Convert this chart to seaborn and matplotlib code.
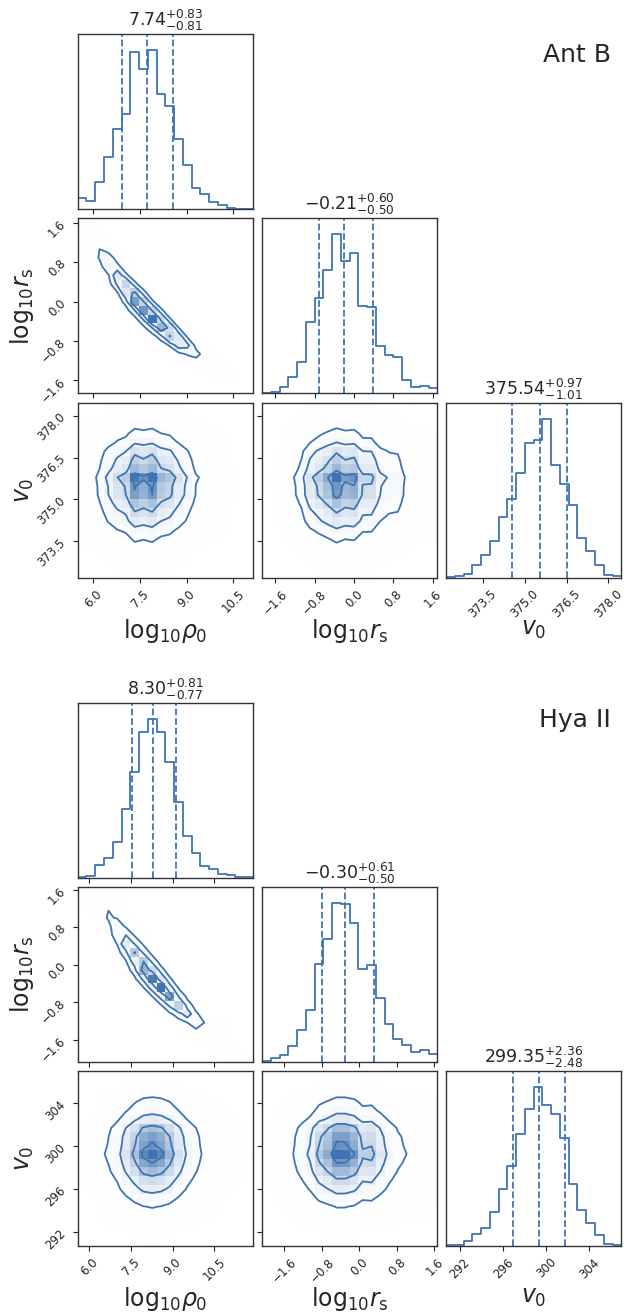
import numpy as np
import pandas as pd
import matplotlib
matplotlib.use("Agg")
import matplotlib.pyplot as plt
import seaborn as sns
from matplotlib.colors import LinearSegmentedColormap
from matplotlib.ticker import FixedLocator, FixedFormatter, NullLocator

# ----------------------------------------------------------------- data
galaxy_names = ["Ant B", "Hya II"]
param_labels = [r"$\mathrm{log}_{10}\rho_0$", r"$\mathrm{log}_{10}r_{\rm s}$", r"$v_0$"]

# Ant B : histogram ranges and 20-bin counts
antb_rho0_range = (5.50, 11.13)
antb_rs_range = (-1.87, 1.69)
antb_v0_range = (372.18, 378.46)
antb_rho0_counts = [33, 23, 80, 157, 240, 286, 471, 421, 478, 346,
                    308, 211, 131, 63, 45, 21, 13, 3, 1, 1]
antb_rs_counts = [2, 5, 18, 48, 94, 213, 285, 368, 475, 395,
                  419, 261, 258, 142, 114, 108, 41, 20, 22, 16]
antb_v0_counts = [4, 7, 13, 40, 68, 110, 184, 237, 316, 404,
                  414, 477, 339, 281, 220, 121, 80, 40, 10, 6]
antb_median = [7.74, -0.21, 375.54]
antb_err_plus = [0.83, 0.60, 0.97]
antb_err_minus = [0.81, 0.50, 1.01]

# Hya II
hya_rho0_range = (5.58, 11.89)
hya_rs_range = (-2.08, 1.66)
hya_v0_range = (290.70, 306.95)
hya_rho0_counts = [2, 6, 39, 61, 107, 208, 319, 441, 479, 440,
                   348, 228, 127, 76, 37, 27, 12, 8, 4, 2]
hya_rs_counts = [4, 12, 22, 49, 96, 156, 294, 370, 478, 476,
                 418, 278, 290, 193, 115, 70, 52, 29, 37, 23]
hya_v0_counts = [2, 3, 16, 36, 54, 101, 172, 241, 336, 410,
                 477, 422, 395, 323, 185, 107, 70, 33, 5, 3]
hya_median = [8.30, -0.30, 299.35]
hya_err_plus = [0.81, 0.61, 2.36]
hya_err_minus = [0.77, 0.50, 2.48]

# ticks
rho0_ticks = [6.0, 7.5, 9.0, 10.5]
rho0_ticklabels = ["6.0", "7.5", "9.0", "10.5"]
rs_ticks = [-1.6, -0.8, 0.0, 0.8, 1.6]
rs_ticklabels = ["\u22121.6", "\u22120.8", "0.0", "0.8", "1.6"]
antb_v0_ticks = [373.5, 375.0, 376.5, 378.0]
antb_v0_ticklabels = ["373.5", "375.0", "376.5", "378.0"]
hya_v0_ticks = [292, 296, 300, 304]
hya_v0_ticklabels = ["292", "296", "300", "304"]

# ----------------------------------------------------------------- style
COLOR = "#3f74b1"
sns.set_theme(style="ticks")
plt.rcParams.update({
    "font.family": ["DejaVu Sans"],
    "axes.edgecolor": "#333333",
    "axes.linewidth": 1.0,
    "xtick.major.size": 3.5,
    "ytick.major.size": 3.5,
    "xtick.major.width": 0.8,
    "ytick.major.width": 0.8,
    "xtick.color": "#222222",
    "ytick.color": "#222222",
})
TICK_FS = 8.5
LABEL_FS = 17
TITLE_FS = 12.5

W, H_PX = 624, 1313
fig = plt.figure(figsize=(W / 100, H_PX / 100), dpi=100)

col_x = [77.7, 262.0, 446.0]
AX_W = 175.3
AX_H = 175.0
row_y = {0: [34.0, 218.5, 403.0], 1: [703.0, 887.0, 1071.0]}


def make_ax(block, r, c):
    x = col_x[c]
    y = row_y[block][r]
    return fig.add_axes([x / W, 1 - (y + AX_H) / H_PX, AX_W / W, AX_H / H_PX])


density_cmap = LinearSegmentedColormap.from_list("density_cmap", [COLOR, (1, 1, 1, 0)])
contour_fracs = 1.0 - np.exp(-0.5 * np.arange(0.5, 2.1, 0.5) ** 2)


def countermonotone(a, b):
    a = np.asarray(a, float); b = np.asarray(b, float)
    a = a / a.sum(); b = b / b.sum()
    Hm = np.zeros((len(a), len(b)))
    i, j = 0, len(b) - 1
    ra, rb = a[0], b[-1]
    while i < len(a) and j >= 0:
        m = min(ra, rb)
        Hm[i, j] += m
        ra -= m; rb -= m
        if ra <= 1e-12:
            i += 1
            ra = a[i] if i < len(a) else 0.0
        if rb <= 1e-12:
            j -= 1
            rb = b[j] if j >= 0 else 0.0
    return Hm


def blur(Hm):
    k = np.array([1.0, 2.0, 1.0]) / 4.0
    P = np.pad(Hm, 1)
    out = np.zeros_like(Hm)
    for di in range(3):
        for dj in range(3):
            out += k[di] * k[dj] * P[di:di + Hm.shape[0], dj:dj + Hm.shape[1]]
    return out


def hist2d_panel(ax, Hm, xr, yr):
    nb = Hm.shape[0]
    xe = np.linspace(xr[0], xr[1], nb + 1)
    ye = np.linspace(yr[0], yr[1], nb + 1)
    ax.pcolormesh(xe, ye, Hm.max() - Hm.T, cmap=density_cmap, shading="flat")
    # contour levels as in corner
    Hflat = np.sort(Hm.flatten())[::-1]
    sm = np.cumsum(Hflat); sm /= sm[-1]
    V = np.empty(len(contour_fracs))
    for i, v0 in enumerate(contour_fracs):
        sel = Hflat[sm <= v0]
        V[i] = sel[-1] if len(sel) else Hflat[0]
    V.sort()
    xc = 0.5 * (xe[1:] + xe[:-1]); yc = 0.5 * (ye[1:] + ye[:-1])
    H2 = Hm.min() + np.zeros((nb + 4, nb + 4))
    H2[2:-2, 2:-2] = Hm
    H2[2:-2, 1] = Hm[:, 0]; H2[2:-2, -2] = Hm[:, -1]
    H2[1, 2:-2] = Hm[0]; H2[-2, 2:-2] = Hm[-1]
    H2[1, 1] = Hm[0, 0]; H2[1, -2] = Hm[0, -1]
    H2[-2, 1] = Hm[-1, 0]; H2[-2, -2] = Hm[-1, -1]
    dx = xc[1] - xc[0]; dy = yc[1] - yc[0]
    X2 = np.concatenate([xc[0] + np.array([-2, -1]) * dx, xc, xc[-1] + np.array([1, 2]) * dx])
    Y2 = np.concatenate([yc[0] + np.array([-2, -1]) * dy, yc, yc[-1] + np.array([1, 2]) * dy])
    ax.contour(X2, Y2, H2.T, V, colors=COLOR, linewidths=1.3)
    ax.set_xlim(xr); ax.set_ylim(yr)


def hist1d_panel(ax, counts, rng, med, ep, em):
    counts = np.asarray(counts, float)
    edges = np.linspace(rng[0], rng[1], len(counts) + 1)
    centers = 0.5 * (edges[1:] + edges[:-1])
    df = pd.DataFrame({"value": centers, "count": counts})
    sns.histplot(data=df, x="value", weights="count", bins=list(edges), element="step",
                 fill=False, color=COLOR, linewidth=1.3, ax=ax)
    for q in (med - em, med, med + ep):
        ax.axvline(q, ls="--", color=COLOR, lw=1.3)
    ax.set_xlim(rng)
    ax.set_ylim(0, 1.1 * counts.max())
    ax.set_ylabel(""); ax.set_xlabel("")
    ax.yaxis.set_major_locator(NullLocator())
    ax.set_title(r"$%.2f_{-%.2f}^{+%.2f}$" % (med, em, ep), fontsize=TITLE_FS)


def set_ticks(axis, ticks, labels, show):
    axis.set_major_locator(FixedLocator(ticks))
    if show:
        axis.set_major_formatter(FixedFormatter(labels))
    else:
        axis.set_major_formatter(FixedFormatter([""] * len(ticks)))


datasets = [
    dict(counts=[antb_rho0_counts, antb_rs_counts, antb_v0_counts],
         ranges=[antb_rho0_range, antb_rs_range, antb_v0_range],
         med=antb_median, ep=antb_err_plus, em=antb_err_minus,
         ticks=[(rho0_ticks, rho0_ticklabels), (rs_ticks, rs_ticklabels),
                (antb_v0_ticks, antb_v0_ticklabels)]),
    dict(counts=[hya_rho0_counts, hya_rs_counts, hya_v0_counts],
         ranges=[hya_rho0_range, hya_rs_range, hya_v0_range],
         med=hya_median, ep=hya_err_plus, em=hya_err_minus,
         ticks=[(rho0_ticks, rho0_ticklabels), (rs_ticks, rs_ticklabels),
                (hya_v0_ticks, hya_v0_ticklabels)]),
]

for b, ds in enumerate(datasets):
    cnts = [np.asarray(c, float) for c in ds["counts"]]
    joint = {}
    cm = countermonotone(cnts[0], cnts[1])
    joint[(1, 0)] = 0.3 * cm + 0.7 * blur(cm)
    joint[(2, 0)] = np.outer(cnts[0], cnts[2])
    joint[(2, 1)] = np.outer(cnts[1], cnts[2])
    for r in range(3):
        for c in range(r + 1):
            ax = make_ax(b, r, c)
            if r == c:
                hist1d_panel(ax, cnts[r], ds["ranges"][r], ds["med"][r], ds["ep"][r], ds["em"][r])
            else:
                hist2d_panel(ax, joint[(r, c)], ds["ranges"][c], ds["ranges"][r])
                set_ticks(ax.yaxis, *ds["ticks"][r], show=(c == 0))
            set_ticks(ax.xaxis, *ds["ticks"][c], show=(r == 2))
            ax.tick_params(labelsize=TICK_FS)
            for lab in ax.get_xticklabels():
                lab.set_rotation(45)
            for lab in ax.get_yticklabels():
                lab.set_rotation(45)
            if r == 2:
                ax.set_xlabel(param_labels[c], fontsize=LABEL_FS)
                ax.xaxis.set_label_coords(0.5, -0.225)
            if c == 0 and r > 0:
                ax.set_ylabel(param_labels[r], fontsize=LABEL_FS)
                ax.yaxis.set_label_coords(-0.24, 0.5)
    y_txt = [55, 720][b]
    fig.text(611 / W, 1 - y_txt / H_PX, galaxy_names[b], ha="right", va="center", fontsize=18)

fig.savefig("out.png", dpi=100)
